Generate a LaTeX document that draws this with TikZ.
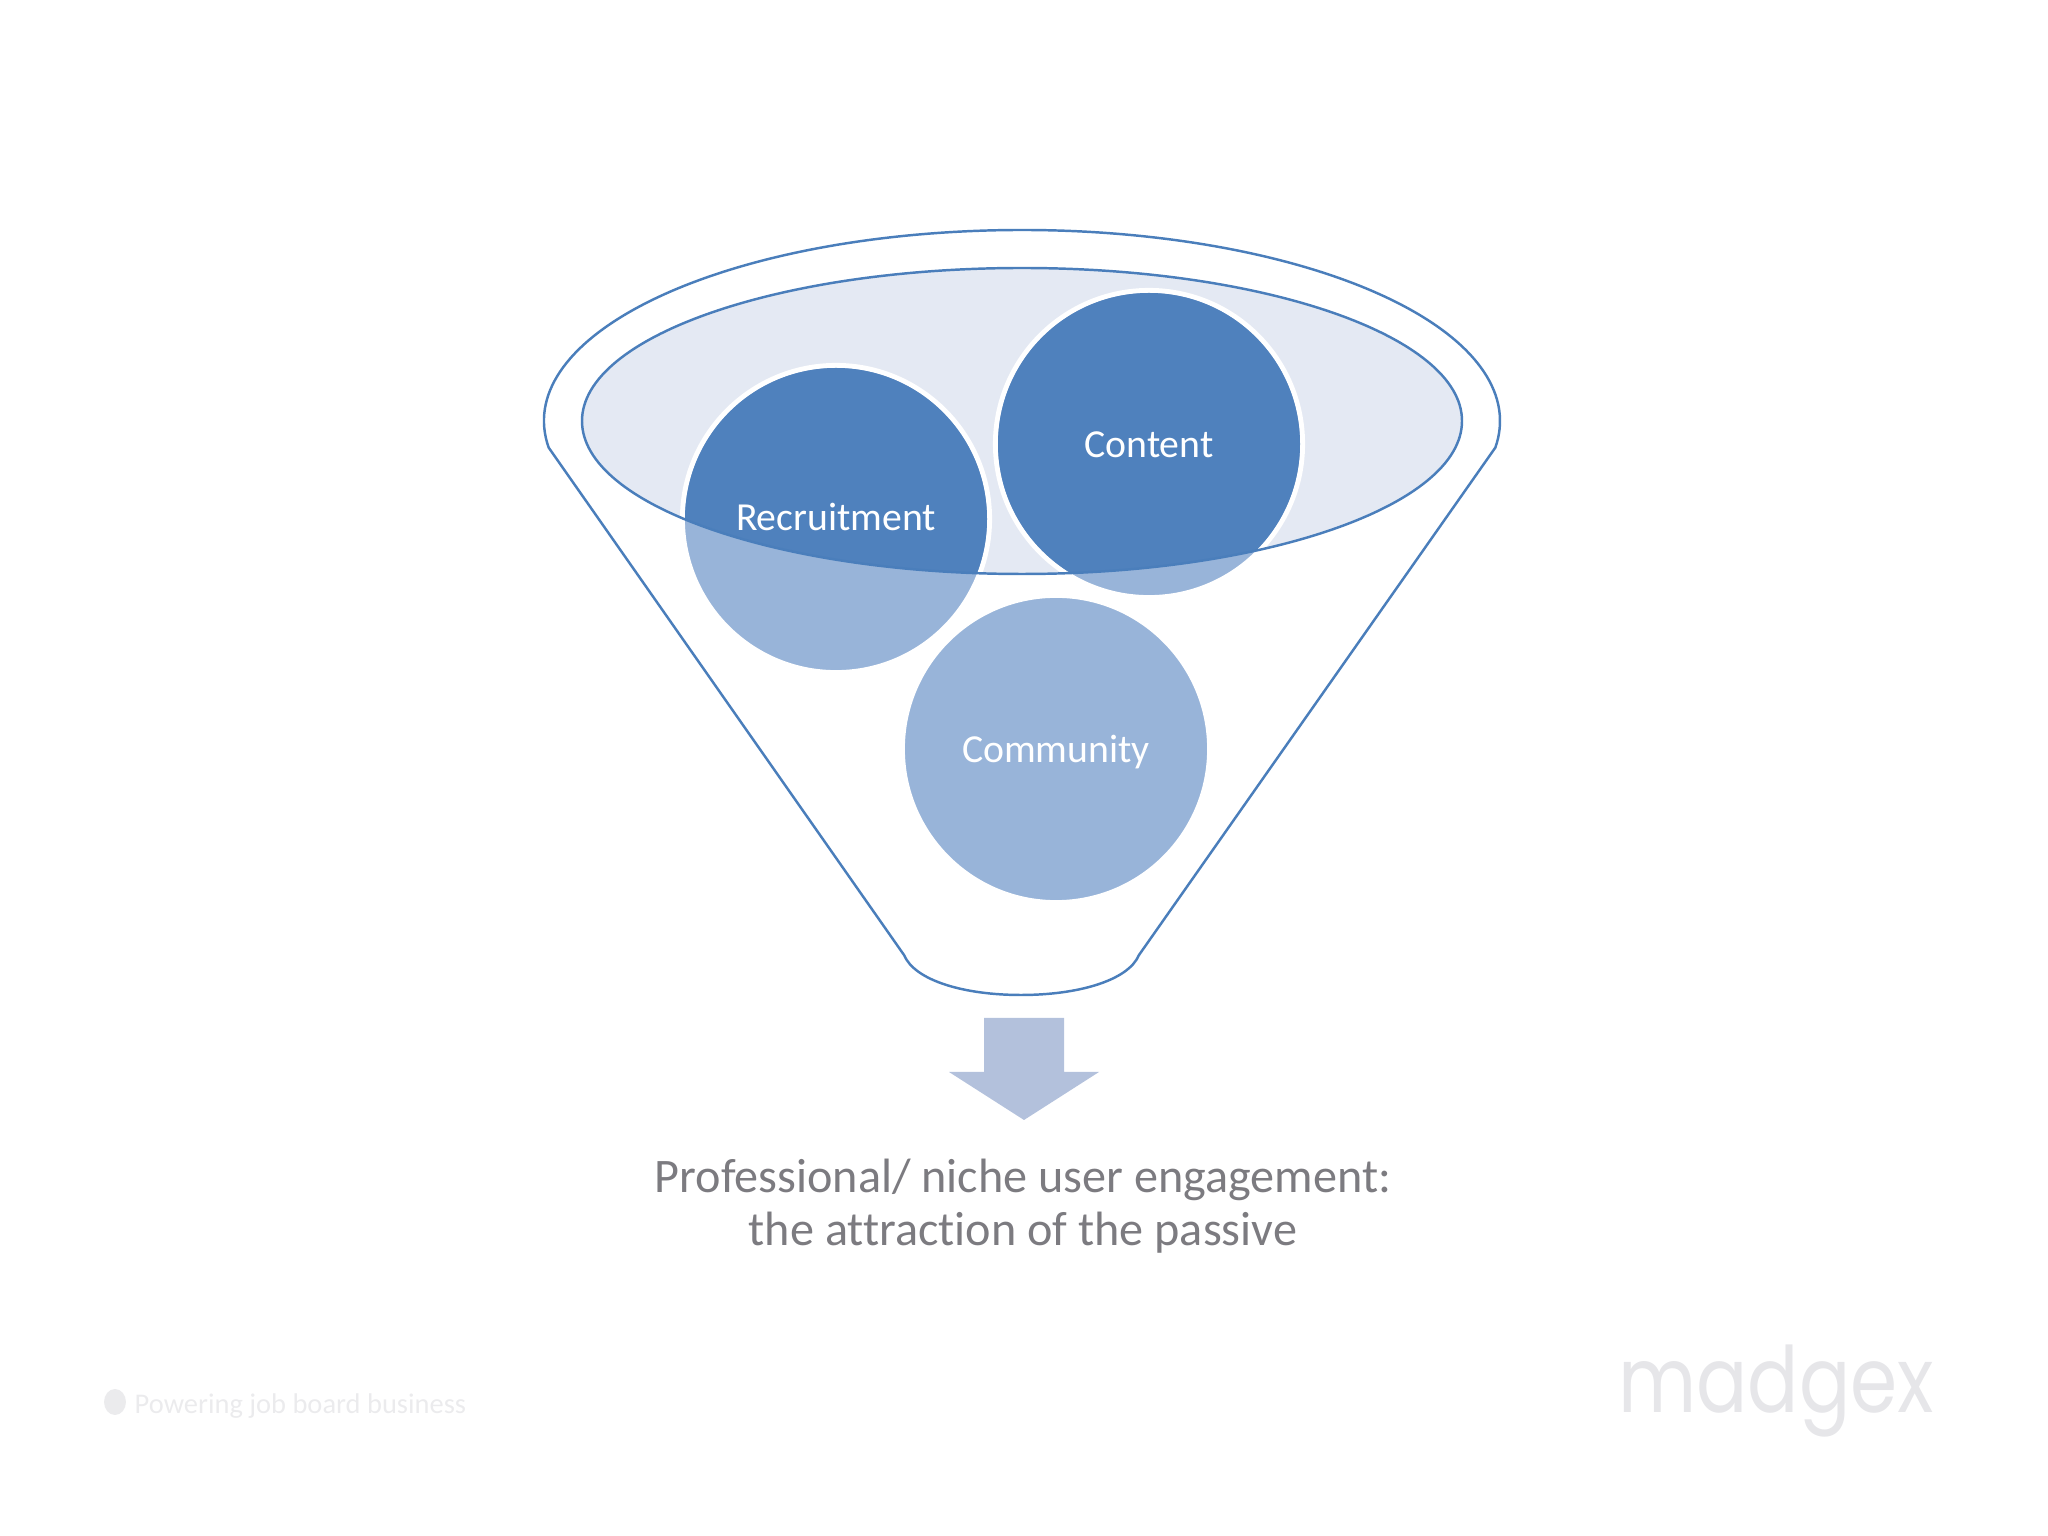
\documentclass[tikz,border=0pt]{standalone}
\usepackage{fontspec}
\setmainfont{Carlito}[RawFeature={-liga}]
\newfontfamily\logofont{Poppins}
\usetikzlibrary{arrows}

\definecolor{funnelblue}{HTML}{4A7EBB}
\definecolor{bubbledark}{HTML}{4F81BD}
\definecolor{bubblelight}{HTML}{98B4D9}
\definecolor{mouthfill}{HTML}{E4E9F3}
\definecolor{arrowfill}{HTML}{B3C1DC}
\definecolor{captiongray}{HTML}{7C7B80}
\definecolor{markgray}{HTML}{EBEBED}
\definecolor{logogray}{HTML}{E6E6E9}

\tikzset{
  bubble/.style={circle,draw=white,line width=1.4pt,fill=bubblelight,minimum size=3.07cm,inner sep=0pt},
  bubbletext/.style={text=white,text height=10pt,text depth=2.4pt,font=\fontsize{11.3}{13}\selectfont},
  captiontext/.style={text=captiongray,align=center,font=\fontsize{13.7}{15}\selectfont}
}

\begin{document}
\begin{tikzpicture}[x=0.01cm,y=0.01cm]

\useasboundingbox (0,0) rectangle (2048,1536);

%outer rim and stem
\draw [funnelblue,line width=0.7pt] (1022,1115) ++(188:478 and 191) arc [start angle=188,end angle=-8,x radius=478,y radius=191]
 -- (1139,581) .. controls (1128,555) and (1077,541) .. (1021,541) .. controls (965,541) and (915,555) .. (904,581) -- cycle;

\fill [mouthfill] (1022,1115) ellipse [x radius=440,y radius=153];

\node [bubble] (community) at (1056,787) {};
\node [bubble] (recruitment) at (836,1017) {};
\node [bubble] (content) at (1149,1092) {};

%darker where the bubbles sit in the mouth
\begin{scope}
\clip (1022,1115) ellipse [x radius=440,y radius=153];
\fill [bubbledark] (recruitment) circle [radius=151];
\fill [bubbledark] (content) circle [radius=151];
\end{scope}

\draw [funnelblue,line width=0.7pt] (1022,1115) ellipse [x radius=440,y radius=153];

\node [bubbletext,yshift=0.4pt] (recruitmentlabel) at (recruitment) {Recruitment};
\node [bubbletext] (contentlabel) at (content) {Content};
\node [bubbletext] (communitylabel) at (community) {Community};

\fill [arrowfill] (984,518) -- (1064,518) -- (1064,464) -- (1099,464) -- (1024,416) -- (949,464) -- (984,464) -- cycle;

\node [captiontext] (caption) at (1023,329.5) {Professional/ niche user engagement:\\the attraction of the passive};

\fill [markgray] (115,134) ellipse [x radius=11,y radius=13];
\node [anchor=base west,inner sep=0pt,text=markgray,font=\fontsize{8.1}{10}\selectfont] (strapline) at (134,122.5) {Powering job board business};
\node [anchor=base,transform shape,xscale=0.83,text=logogray,font=\logofont\fontsize{26}{30}\selectfont] (logo) at (1776,123) {madgex};

\end{tikzpicture}
\end{document}
